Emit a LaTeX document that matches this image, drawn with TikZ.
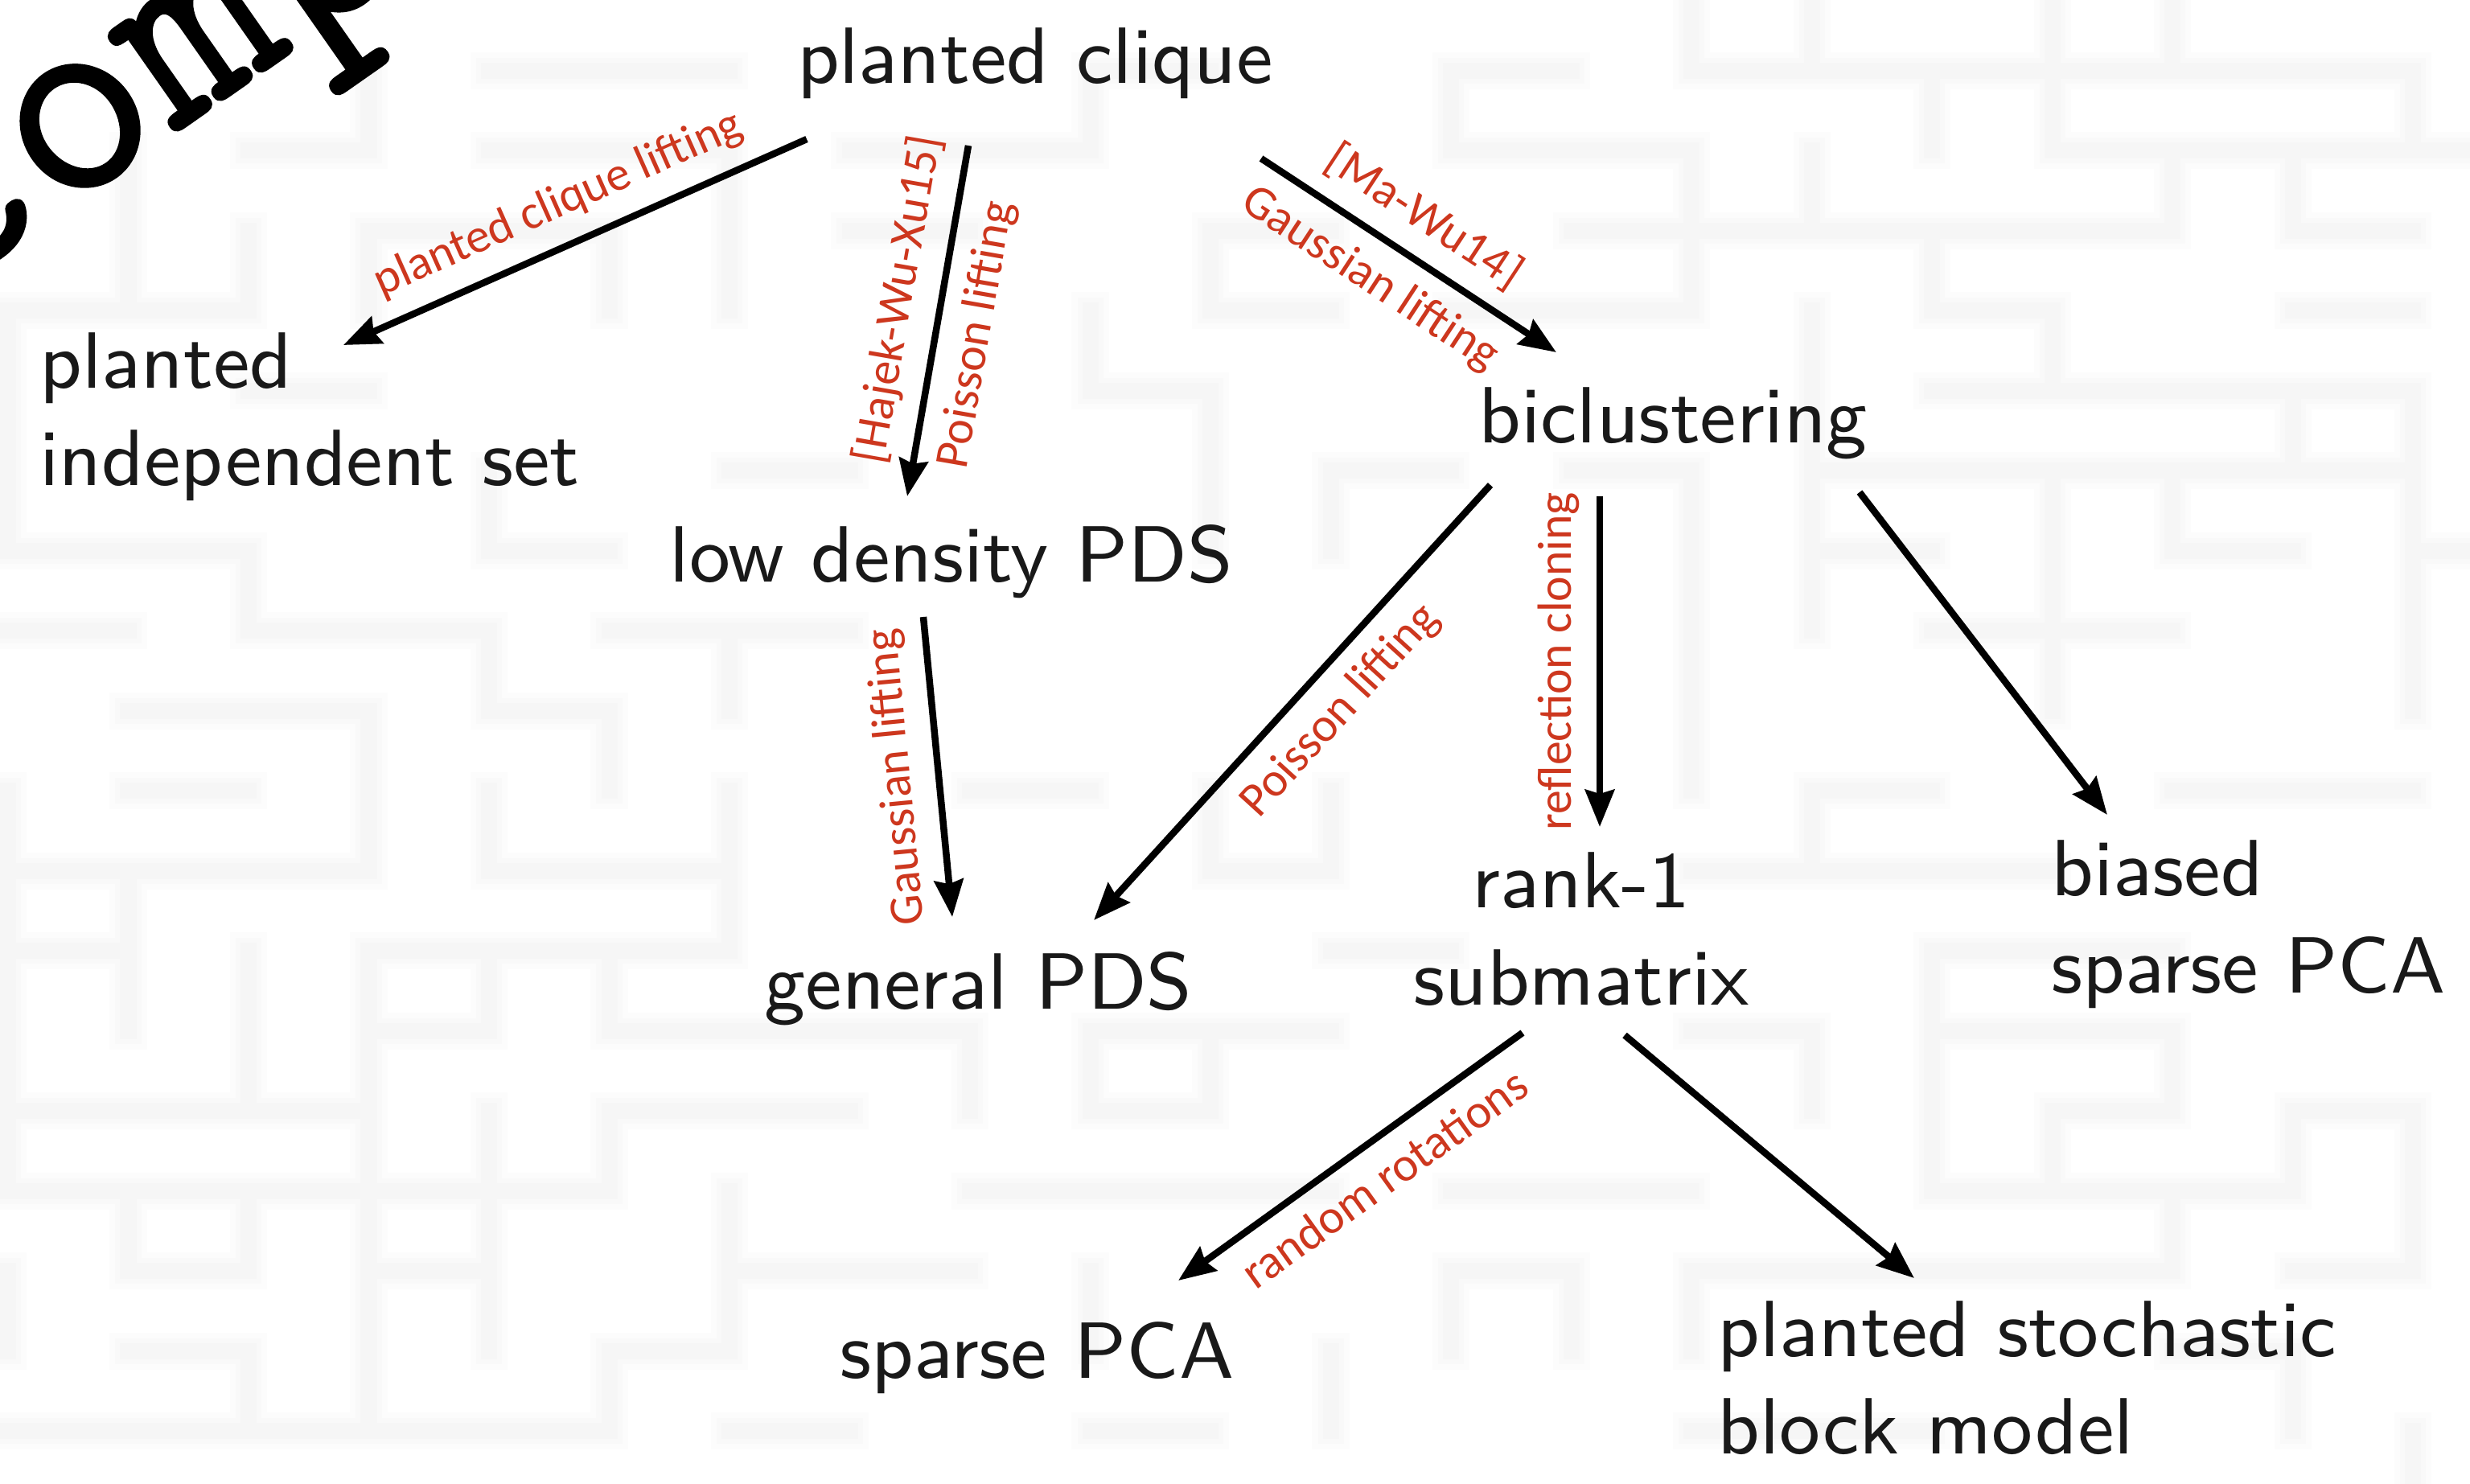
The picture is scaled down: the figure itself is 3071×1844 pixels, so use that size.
\documentclass[tikz,border=0pt]{standalone}
\usepackage{fontspec}
\newfontfamily\labfont{Carlito}
\newfontfamily\nodefont{lmsans9-regular.otf}
\newfontfamily\ttlfont[FakeBold=0.5]{lmmono10-regular.otf}
\usetikzlibrary{arrows.meta}
\definecolor{labred}{RGB}{205,55,30}
\begin{document}
\begin{tikzpicture}[x=0.01cm,y=-0.01cm,
  wall/.style={line width=0.2cm, draw=black!3.6, line cap=rect},
  wallmid/.style={line width=0.32cm, draw=black!2.4, line cap=rect},
  wallhalo/.style={line width=0.46cm, draw=black!1.2, line cap=rect},
  txt/.style={font=\nodefont\fontsize{28.2}{34.4}\selectfont, text=black!90, inner sep=0pt},
  lab/.style={font=\labfont\fontsize{17}{20}\selectfont, text=labred, inner sep=6pt},
  arr/.style={-{Stealth[length=0.46cm,width=0.36cm,inset=0.05cm]}, line width=0.085cm, draw=black}]
\useasboundingbox (0,0) rectangle (3071,1844);
\fill[white] (0,0) rectangle (3071,1844);

% faint maze in the background: grid 149.5 x 99.5
\def\hwalls{2/2/3,1/4/6,2/4/6,2/7/9,3/3/5,4/0/2,5/2/3,6/6/7,7/0/2,7/4/5,8/0/1,8/2/4,8/5/7,9/1/3,9/4/5,
  1/9/10,3/7/8,3/10/11,4/10/11,5/9/10,6/11/12,1/12/13,2/12/14,3/13/14,4/12/14,
  1/14/20,2/17/21,3/14/18,3/19/20,4/16/17,4/19/20,5/16/20,6/13/14,6/15/20,7/18/19,7/15/16,8/16/18,7/20/21,
  10/1/2,11/0/3,11/4/6,12/0/1,12/3/6,13/3/4,13/5/7,14/0/3,14/5/7,15/0/5,16/1/2,16/3/4,16/6/7,17/1/2,17/5/6,18/0/5,18/6/7,
  10/8/9,11/10/11,12/11/12,13/7/8,13/9/11,14/9/10,15/8/11,15/12/14,16/12/13,16/7/8,18/9/10,
  10/15/16,10/18/20,11/14/17,12/16/18,13/14/15,13/16/18,14/17/18,14/19/20,15/16/19,16/14/18,16/19/20,17/18/19,18/14/16}
\def\vwalls{3/1/2,1/2/4,2/3/4,3/3/4,5/3/4,0/4/7,6/2/4,4/6/7,2/7/8,6/8/9,4/8/9,
  5/9/10,3/9/11,4/10/11,6/10/12,0/10/15,0/16/17,1/11/13,2/12/14,3/12/18,4/12/13,4/14/17,5/12/13,5/14/15,5/17/18,1/15/16,2/15/16,6/15/17,2/17/18,
  9/1/2,10/3/4,9/4/5,10/5/7,11/6/7,12/1/2,
  14/0/1,15/0/1,17/0/2,16/1/2,20/1/2,14/2/4,15/2/3,18/2/3,19/2/3,16/3/4,15/4/8,17/4/5,19/5/6,20/5/9,14/6/9,17/6/9,18/6/7,18/0/1,
  11/10/11,10/10/11,8/13/14,9/13/14,10/13/14,12/16/17,13/16/17,9/16/17,11/17/18,
  14/9/10,15/10/11,16/12/15,15/13/14,18/13/14,17/14/15,19/14/15,20/14/16,14/16/17,18/15/16,19/17/18,20/18/19}
\begin{scope}
  \clip (0,0) rectangle (3071,1844);
  \foreach \style in {wallhalo,wallmid,wall}{
    \foreach \ra/\ja/\jb in \hwalls
      \draw[\style] ({10+149.5*\ja},{-12+99.5*\ra}) -- ({10+149.5*\jb},{-12+99.5*\ra});
    \foreach \ja/\ra/\rb in \vwalls
      \draw[\style] ({10+149.5*\ja},{-12+99.5*\ra}) -- ({10+149.5*\ja},{-12+99.5*\rb});
  }
  % title running off the corner
  \node[font=\ttlfont\fontsize{100}{100}\selectfont, rotate=35, anchor=base west, inner sep=0pt] (ttl) at (-84,378) {comp};
\end{scope}

% problems
\node[txt, anchor=base] (pc) at (1287,103) {planted clique};
\node[txt, anchor=north west, align=left] (pis) at (49,413) {planted\\independent set};
\node[txt, anchor=base west] (ldp) at (832,723) {low density PDS};
\node[txt, anchor=base west] (bic) at (1838,550) {biclustering};
\node[txt, anchor=base west] (gp) at (950,1254) {general PDS};
\node[txt, anchor=north, align=center] (r1s) at (1966,1059) {rank-1\\submatrix};
\node[txt, anchor=north west, align=left] (bsp) at (2550,1044) {biased\\sparse PCA};
\node[txt, anchor=base west] (sp) at (1044,1713) {sparse PCA};
\node[txt, anchor=north west, align=left] (psbm) at (2135,1617) {planted stochastic\\block model};

% connector ends
\coordinate (pc-pis) at (1003,173);   \coordinate (pis-in) at (427,429);
\coordinate (pc-ldp) at (1204,181);   \coordinate (ldp-in) at (1128,617);
\coordinate (pc-bic) at (1568,197);   \coordinate (bic-in) at (1935,438);
\coordinate (ldp-gp) at (1148,767);   \coordinate (gp-in1) at (1184,1140);
\coordinate (bic-gp) at (1853,603);   \coordinate (gp-in2) at (1360,1144);
\coordinate (bic-r1s) at (1989,617);  \coordinate (r1s-in) at (1989,1028);
\coordinate (bic-bsp) at (2312,612);  \coordinate (bsp-in) at (2620,1013);
\coordinate (r1s-sp) at (1893,1284);  \coordinate (sp-in) at (1465,1592);
\coordinate (r1s-psbm) at (2020,1287);\coordinate (psbm-in) at (2380,1589);

% reductions
\draw[arr] (pc-pis) -- node[lab, sloped, above, pos=0.5] {planted clique lifting} (pis-in);
\draw[arr] (pc-ldp) -- node[lab, sloped, above, pos=0.46] {[Hajek-Wu-Xu15]}
                       node[lab, sloped, below, pos=0.52] {Poisson lifting} (ldp-in);
\draw[arr] (pc-bic) -- node[lab, sloped, above, pos=0.476] {[Ma-Wu14]}
                       node[lab, sloped, below, pos=0.445] {Gaussian lifting} (bic-in);
\draw[arr] (ldp-gp) -- node[lab, rotate=95.5, anchor=south, pos=0.52] {Gaussian lifting} (gp-in1);
\draw[arr] (bic-gp) -- node[lab, sloped, below, pos=0.455] {Poisson lifting} (gp-in2);
\draw[arr] (bic-r1s) -- node[lab, rotate=90, anchor=south, pos=0.5] {reflection cloning} (r1s-in);
\draw[arr] (bic-bsp) -- (bsp-in);
\draw[arr] (r1s-sp) -- node[lab, sloped, below, pos=0.465] {random rotations} (sp-in);
\draw[arr] (r1s-psbm) -- (psbm-in);
\end{tikzpicture}
\end{document}
